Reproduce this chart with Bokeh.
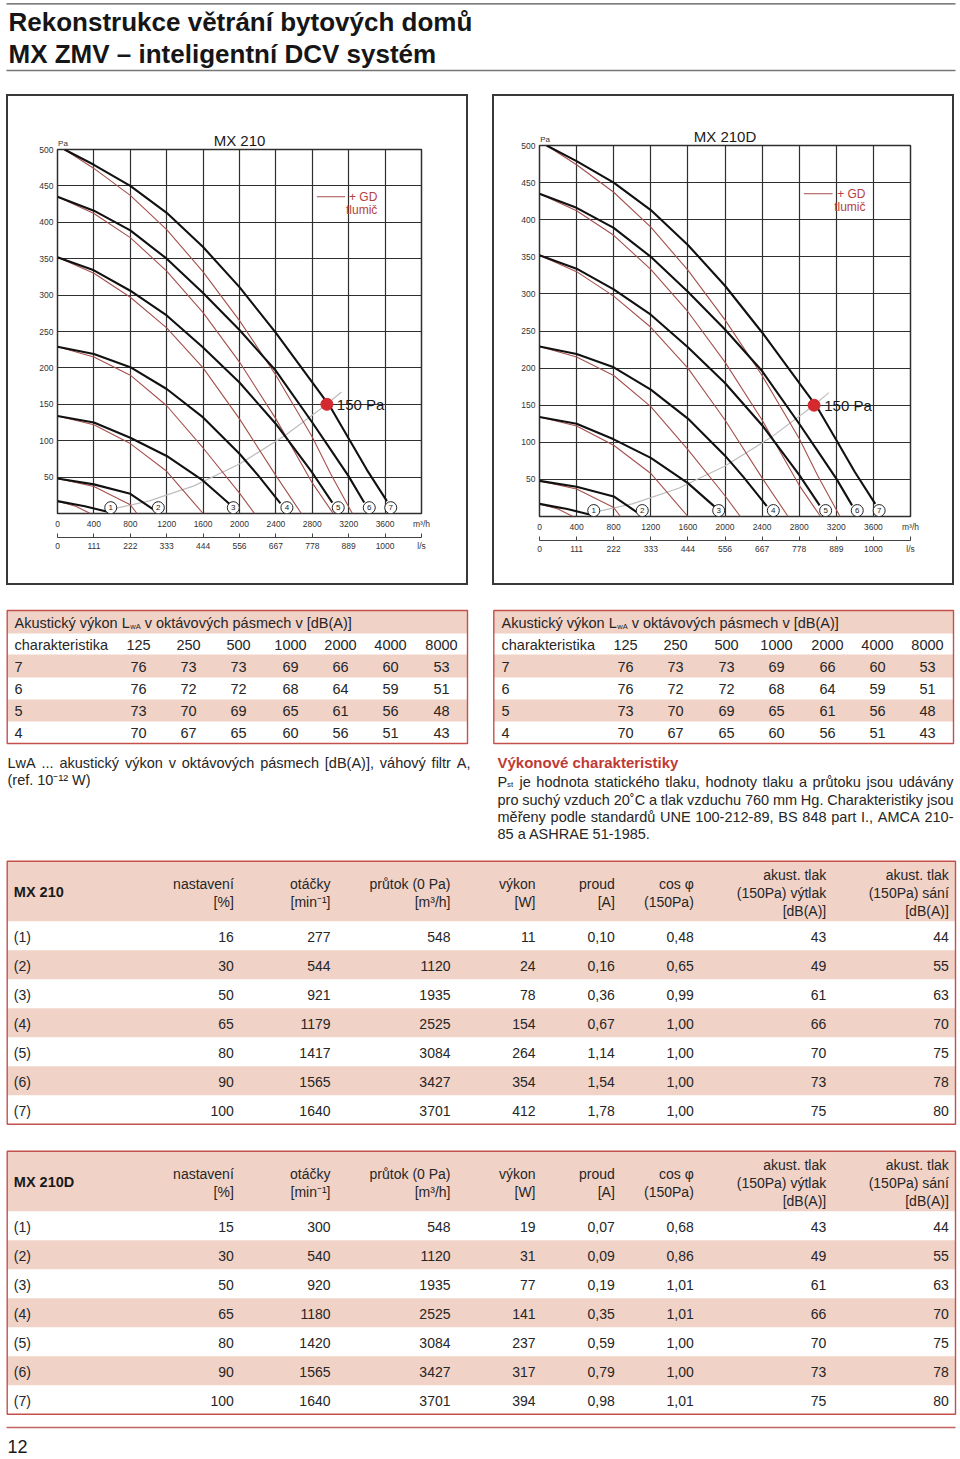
import unicodedata
from bokeh.plotting import figure
from bokeh.models import Range1d, LinearAxis, FixedTicker, Grid, Spacer
from bokeh.layouts import column, row
from bokeh.core.properties import value
from bokeh.embed import file_html
from bokeh.resources import INLINE

FONT = "Liberation Sans"
PINK = "#f1d2c6"
RED_BORDER = "#c4504c"
TXT = "#262626"
GRID = "#2f2f2f"
CURVE_RED = "#a4504c"

# ---------------- chart data ----------------
flow_ticks = [0, 400, 800, 1200, 1600, 2000, 2400, 2800, 3200, 3600, 4000]
flow_labels = ["0", "400", "800", "1200", "1600", "2000", "2400", "2800", "3200", "3600", "m³/h"]
ls_labels = ["0", "111", "222", "333", "444", "556", "667", "778", "889", "1000", "l/s"]
pa_ticks = [50, 100, 150, 200, 250, 300, 350, 400, 450, 500]
pa_unit_x = [60]
pa_unit_label = ["Pa"]

# fan curves (black) - flow m3/h, pressure Pa
c1_x = [0, 300, 560]
c1_y = [17, 10, 2]
c2_x = [0, 400, 800, 1060]
c2_y = [48, 40, 27, 5]
c3_x = [0, 400, 800, 1200, 1600, 1900]
c3_y = [134, 125, 104, 79, 45, 12]
c4_x = [0, 400, 800, 1200, 1600, 2000, 2200, 2450]
c4_y = [229, 219, 201, 171, 132, 82, 53, 14]
c5_x = [0, 400, 800, 1200, 1600, 2000, 2400, 2800, 3020]
c5_y = [352, 334, 306, 272, 228, 180, 123, 56, 15]
c6_x = [0, 400, 800, 1200, 1600, 2000, 2400, 2800, 3000, 3200, 3370]
c6_y = [435, 416, 389, 350, 303, 252, 196, 125, 88, 51, 15]
c7_x = [77, 400, 800, 1200, 1600, 2000, 2400, 2800, 3000, 3200, 3400, 3620]
c7_y = [500, 479, 450, 413, 366, 311, 248, 180, 146, 103, 60, 17]

# curves with GD silencer (red)
r1_x = [0, 200, 360]
r1_y = [17, 10, 0]
r2_x = [0, 400, 800, 873]
r2_y = [48, 37, 12, 0]
r3_x = [0, 400, 800, 1200, 1600]
r3_y = [134, 122, 96, 58, 0]
r4_x = [0, 400, 800, 1200, 1600, 2000, 2165]
r4_y = [229, 215, 190, 148, 90, 28, 0]
r5_x = [0, 400, 800, 1200, 1600, 2000, 2400, 2680]
r5_y = [352, 330, 297, 255, 200, 130, 52, 0]
r6_x = [0, 400, 800, 1200, 1600, 2000, 2400, 2800, 3030]
r6_y = [435, 412, 379, 333, 276, 208, 130, 42, 0]
r7_x = [77, 400, 800, 1200, 1600, 2000, 2400, 2800, 3000, 3240]
r7_y = [500, 474, 437, 390, 332, 265, 190, 105, 55, 0]

# system curve (grey) and working point
sys_x = [560, 1000, 1500, 2000, 2500, 2960, 3120]
sys_y = [5, 17, 38, 68, 107, 150, 167]
wp_x = [2960]
wp_y = [150]

curve_ids = ["1", "2", "3", "4", "5", "6", "7"]
id_x = [585, 1108, 1932, 2521, 3085, 3426, 3662]
id_y = [8, 8, 8, 8, 8, 8, 8]

# ---------------- acoustic table ----------------
bands = ["125", "250", "500", "1000", "2000", "4000", "8000"]
lwa_rows = ["7", "6", "5", "4"]
lwa_7 = [76, 73, 73, 69, 66, 60, 53]
lwa_6 = [76, 72, 72, 68, 64, 59, 51]
lwa_5 = [73, 70, 69, 65, 61, 56, 48]
lwa_4 = [70, 67, 65, 60, 56, 51, 43]

# ---------------- main tables ----------------
row_names = ["(1)", "(2)", "(3)", "(4)", "(5)", "(6)", "(7)"]
t210_nastaveni = [16, 30, 50, 65, 80, 90, 100]
t210_otacky = [277, 544, 921, 1179, 1417, 1565, 1640]
t210_prutok = [548, 1120, 1935, 2525, 3084, 3427, 3701]
t210_vykon = [11, 24, 78, 154, 264, 354, 412]
t210_proud = [0.10, 0.16, 0.36, 0.67, 1.14, 1.54, 1.78]
t210_cos = [0.48, 0.65, 0.99, 1.00, 1.00, 1.00, 1.00]
t210_vytlak = [43, 49, 61, 66, 70, 73, 75]
t210_sani = [44, 55, 63, 70, 75, 78, 80]

t210d_nastaveni = [15, 30, 50, 65, 80, 90, 100]
t210d_otacky = [300, 540, 920, 1180, 1420, 1565, 1640]
t210d_prutok = [548, 1120, 1935, 2525, 3084, 3427, 3701]
t210d_vykon = [19, 31, 77, 141, 237, 317, 394]
t210d_proud = [0.07, 0.09, 0.19, 0.35, 0.59, 0.79, 0.98]
t210d_cos = [0.68, 0.86, 1.01, 1.01, 1.00, 1.00, 1.01]
t210d_vytlak = [43, 49, 61, 66, 70, 73, 75]
t210d_sani = [44, 55, 63, 70, 75, 78, 80]

header_cols = [
    ["nastavení", "[%]"],
    ["otáčky", "[min⁻¹]"],
    ["průtok (0 Pa)", "[m³/h]"],
    ["výkon", "[W]"],
    ["proud", "[A]"],
    ["cos φ", "(150Pa)"],
    ["akust. tlak", "(150Pa) výtlak", "[dB(A)]"],
    ["akust. tlak", "(150Pa) sání", "[dB(A)]"],
]

note_lines = ["LwA ... akustický výkon v oktávových pásmech [dB(A)], váhový filtr A,",
              "(ref. 10⁻¹² W)"]
para_first = "je hodnota statického tlaku, hodnoty tlaku a průtoku jsou udávány"
para_lines = ["pro suchý vzduch 20˚C a tlak vzduchu 760 mm Hg. Charakteristiky jsou",
              "měřeny podle standardů UNE 100-212-89, BS 848 part I., AMCA 210-",
              "85 a ASHRAE 51-1985."]

# Helvetica/Arial advance widths (1/1000 em) used to justify text lines
_W = {" ": 278, "!": 278, "%": 889, "(": 333, ")": 333, ",": 278, "-": 333, ".": 278,
      "/": 278, ":": 278, "[": 278, "]": 278, "˚": 333, "–": 556,
      "A": 667, "B": 667, "C": 722, "D": 722, "E": 667, "F": 611, "G": 778, "H": 722,
      "I": 278, "J": 500, "K": 667, "L": 556, "M": 833, "N": 722, "O": 778, "P": 667,
      "Q": 778, "R": 722, "S": 667, "T": 611, "U": 722, "V": 667, "W": 944, "X": 667,
      "Y": 667, "Z": 611,
      "a": 556, "b": 556, "c": 500, "d": 556, "e": 556, "f": 278, "g": 556, "h": 556,
      "i": 222, "j": 222, "k": 500, "l": 222, "m": 833, "n": 556, "o": 556, "p": 556,
      "q": 556, "r": 333, "s": 500, "t": 278, "u": 556, "v": 500, "w": 722, "x": 500,
      "y": 500, "z": 500}


def text_width(s, size):
    tot = 0
    for ch in s:
        base = unicodedata.normalize("NFD", ch)[0]
        tot += _W.get(ch, _W.get(base, 556))
    return tot * size / 1000.0


def txt(p, xs, ys, texts, size="14px", align="left", baseline="middle",
        color=TXT, style="normal"):
    p.text(x=xs, y=ys, text=texts, text_font=value(FONT),
           text_font_size=value(size), text_align=align,
           text_baseline=baseline, text_color=color, text_font_style=style)


def justified(p, x0, x1, y, line, size):
    words = line.split(" ")
    ws = [text_width(w, size) for w in words]
    gap = (x1 - x0 - sum(ws)) / (len(words) - 1)
    xs, x = [], x0
    for w in ws:
        xs.append(x)
        x += w + gap
    txt(p, xs, [y] * len(words), words, size="%gpx" % size)


def comma(v):
    return ("%.2f" % v).replace(".", ",")


# ---------------- charts ----------------
def make_chart(title, ml, mr, mt, mb):
    p = figure(width=458, height=487, x_range=Range1d(0, 4000), y_range=Range1d(0, 500),
               x_axis_type=None, y_axis_type=None, toolbar_location=None,
               output_backend="svg", min_border_left=ml, min_border_right=mr,
               min_border_top=mt, min_border_bottom=mb, title=title)
    p.styles = {"outline": "2px solid #383838"}
    p.outline_line_color = GRID
    p.outline_line_width = 1.5
    p.background_fill_color = "white"
    p.border_fill_color = "white"
    p.title.align = "center"
    p.title.text_font = FONT
    p.title.text_font_size = "15px"
    p.title.text_font_style = "normal"
    p.title.text_color = "#1a1a1a"
    p.title.standoff = -27

    yax = LinearAxis(ticker=FixedTicker(ticks=pa_ticks))
    yax.axis_line_color = None
    yax.major_tick_out = 0
    yax.major_tick_in = 0
    yax.minor_tick_out = 0
    yax.major_label_standoff = 4
    yax.major_label_text_font = FONT
    yax.major_label_text_font_size = "8.5px"
    yax.major_label_text_color = "#333333"
    p.add_layout(yax, "left")

    # unit label "Pa" above the top-left corner of the plot
    pax = LinearAxis(ticker=FixedTicker(ticks=pa_unit_x),
                     major_label_overrides=dict(zip(pa_unit_x, pa_unit_label)))
    pax.axis_line_color = None
    pax.major_tick_out = 0
    pax.major_tick_in = 0
    pax.minor_tick_out = 0
    pax.major_label_standoff = 2
    pax.major_label_text_font = FONT
    pax.major_label_text_font_size = "8px"
    pax.major_label_text_color = "#333333"
    p.add_layout(pax, "above")

    xax = LinearAxis(ticker=FixedTicker(ticks=flow_ticks),
                     major_label_overrides=dict(zip(flow_ticks, flow_labels)))
    xax.axis_line_color = None
    xax.major_tick_out = 0
    xax.major_tick_in = 0
    xax.minor_tick_out = 0
    xax.major_label_standoff = 5
    xax.major_label_text_font = FONT
    xax.major_label_text_font_size = "8.5px"
    xax.major_label_text_color = "#333333"
    xax.axis_label = " "
    xax.axis_label_text_font_size = "3px"
    xax.axis_label_standoff = 0
    p.add_layout(xax, "below")

    xax2 = LinearAxis(ticker=FixedTicker(ticks=flow_ticks),
                      major_label_overrides=dict(zip(flow_ticks, ls_labels)))
    xax2.axis_line_color = "#444444"
    xax2.axis_line_width = 1
    xax2.major_tick_out = 0
    xax2.major_tick_in = 4
    xax2.major_tick_line_color = "#444444"
    xax2.minor_tick_out = 0
    xax2.major_label_standoff = 3
    xax2.major_label_text_font = FONT
    xax2.major_label_text_font_size = "8.5px"
    xax2.major_label_text_color = "#333333"
    p.add_layout(xax2, "below")

    p.add_layout(Grid(dimension=0, ticker=FixedTicker(ticks=flow_ticks),
                      grid_line_color=GRID, grid_line_width=1.2))
    p.add_layout(Grid(dimension=1, ticker=FixedTicker(ticks=pa_ticks),
                      grid_line_color=GRID, grid_line_width=1.2))

    reds = [(r1_x, r1_y), (r2_x, r2_y), (r3_x, r3_y), (r4_x, r4_y),
            (r5_x, r5_y), (r6_x, r6_y), (r7_x, r7_y)]
    blacks = [(c1_x, c1_y), (c2_x, c2_y), (c3_x, c3_y), (c4_x, c4_y),
              (c5_x, c5_y), (c6_x, c6_y), (c7_x, c7_y)]
    p.line(sys_x, sys_y, line_color="#bdbdbd", line_width=1.2)
    for xs, ys in reds:
        p.line(xs, ys, line_color=CURVE_RED, line_width=1.1)
    for xs, ys in blacks:
        p.line(xs, ys, line_color="#111111", line_width=2.1, line_join="round")

    p.scatter(id_x, id_y, marker="circle", size=12, fill_color="white",
              line_color="#222222", line_width=1)
    txt(p, id_x, id_y, curve_ids, size="8px", align="center", color="#222222")

    p.scatter(wp_x, wp_y, marker="circle", size=12, fill_color="#d42a2f",
              line_color="#d42a2f")
    txt(p, [wp_x[0] + 110], [wp_y[0]], ["150 Pa"], size="15px", color="#1a1a1a")

    # legend
    p.segment(x0=[2850], y0=[435], x1=[3160], y1=[435], line_color=CURVE_RED, line_width=1.1)
    txt(p, [3515], [435], ["+ GD"], size="12px", align="right", color="#b4423e")
    txt(p, [3515], [417], ["tlumič"], size="12px", align="right", color="#b4423e")
    return p


# chart figures sit 2px inside the drawn box (outline is painted outside them)
ch1 = make_chart("MX 210", 49, 45, 53, 70)
ch2 = make_chart("MX 210D", 45, 42, 49, 67)

# ---------------- header ----------------
hdr = figure(width=960, height=94, x_range=Range1d(0, 960), y_range=Range1d(94, 0),
             x_axis_type=None, y_axis_type=None, toolbar_location=None,
             output_backend="svg", min_border=0, outline_line_color=None)
hdr.segment(x0=[6], y0=[3.3], x1=[955], y1=[3.3], line_color="#555555", line_width=1.2)
hdr.segment(x0=[6], y0=[70], x1=[955], y1=[70], line_color="#777777", line_width=1.6)
txt(hdr, [8, 8], [21.7, 53.3],
    ["Rekonstrukce větrání bytových domů", "MX ZMV – inteligentní DCV systém"],
    size="26px", style="bold", color="#161616")

# ---------------- bottom part ----------------
bot = figure(width=960, height=872, x_range=Range1d(0, 960), y_range=Range1d(1457, 585),
             x_axis_type=None, y_axis_type=None, toolbar_location=None,
             output_backend="svg", min_border=0, outline_line_color=None)


def acoustic_table(p, x0, x1, tx, centers):
    b = [610, 633, 654, 677, 699, 721, 743]
    pink_idx = [0, 2, 4]
    p.quad(left=[x0] * 3, right=[x1] * 3, top=[b[i] for i in pink_idx],
           bottom=[b[i + 1] for i in pink_idx], fill_color=PINK, line_color=None)
    p.quad(left=[x0], right=[x1], top=[b[0]], bottom=[b[-1]], fill_color=None,
           line_color=RED_BORDER, line_width=1.4)
    mids = [(b[i] + b[i + 1]) / 2 + 0.5 for i in range(6)]
    s = 14.5
    w1 = text_width("Akustický výkon L", s)
    txt(p, [tx], [mids[0]], ["Akustický výkon L"], size="14.5px")
    txt(p, [tx + w1 + 0.5], [mids[0] + 4], ["wA"], size="7.5px")
    txt(p, [tx + w1 + 0.5 + text_width("wA", 7.5) + text_width(" ", s)], [mids[0]],
        ["v oktávových pásmech v [dB(A)]"], size="14.5px")
    txt(p, [tx], [mids[1]], ["charakteristika"], size="14.5px")
    txt(p, centers, [mids[1]] * 7, bands, size="14.5px", align="center")
    for k, (name, vals) in enumerate(zip(lwa_rows, [lwa_7, lwa_6, lwa_5, lwa_4])):
        y = mids[2 + k]
        txt(p, [tx], [y], [name], size="14.5px")
        txt(p, centers, [y] * 7, [str(v) for v in vals], size="14.5px", align="center")


acoustic_table(bot, 6.7, 467, 14, [138, 188, 238, 290, 340, 390, 441])
acoustic_table(bot, 493.3, 953, 501, [625, 675, 726, 776, 827, 877, 927])

justified(bot, 7, 470, 762, note_lines[0], 14.5)
txt(bot, [7], [779], [note_lines[1]], size="14.5px")

txt(bot, [497], [762], ["Výkonové charakteristiky"], size="15px", style="bold", color="#bf3a35")
txt(bot, [497], [781], ["P"], size="14.5px")
txt(bot, [506.5], [783.5], ["st"], size="8px")
justified(bot, 519, 953, 781, para_first, 14.5)
justified(bot, 497, 953, 799, para_lines[0], 14.5)
justified(bot, 497, 953, 816, para_lines[1], 14.5)
txt(bot, [497], [833], [para_lines[2]], size="14.5px")


def main_table(p, top, name, cols):
    x0, x1 = 6.7, 955
    hh, rh = 60, 29
    hb = top + hh
    bottom = hb + 7 * rh
    pinks_t = [top] + [hb + i * rh for i in (1, 3, 5)]
    pinks_b = [hb] + [hb + (i + 1) * rh for i in (1, 3, 5)]
    p.quad(left=[x0] * 4, right=[x1] * 4, top=pinks_t, bottom=pinks_b,
           fill_color=PINK, line_color=None)
    p.quad(left=[x0], right=[x1], top=[top], bottom=[bottom], fill_color=None,
           line_color=RED_BORDER, line_width=1.4)
    rights = [233.3, 330, 450, 535, 614.3, 693.3, 825.7, 948.3]
    txt(p, [13.3], [top + 31], [name], size="14.5px", style="bold", color="#1a1a1a")
    for r, lines in zip(rights, header_cols):
        if len(lines) == 2:
            ys = [top + 22.6, top + 41]
        else:
            ys = [top + 13.3, top + 31.3, top + 49.3]
        txt(p, [r] * len(lines), ys, lines, size="14px", align="right")
    ys = [hb + 15.5 + i * rh for i in range(7)]
    txt(p, [13.3] * 7, ys, row_names, size="14px")
    for r, vals in zip(rights, cols):
        txt(p, [r] * 7, ys, vals, size="14px", align="right")


cols210 = [[str(v) for v in t210_nastaveni], [str(v) for v in t210_otacky],
           [str(v) for v in t210_prutok], [str(v) for v in t210_vykon],
           [comma(v) for v in t210_proud], [comma(v) for v in t210_cos],
           [str(v) for v in t210_vytlak], [str(v) for v in t210_sani]]
cols210d = [[str(v) for v in t210d_nastaveni], [str(v) for v in t210d_otacky],
            [str(v) for v in t210d_prutok], [str(v) for v in t210d_vykon],
            [comma(v) for v in t210d_proud], [comma(v) for v in t210d_cos],
            [str(v) for v in t210d_vytlak], [str(v) for v in t210d_sani]]

main_table(bot, 860.7, "MX 210", cols210)
main_table(bot, 1150.7, "MX 210D", cols210d)

bot.segment(x0=[6], y0=[1427], x1=[955], y1=[1427], line_color="#c26360", line_width=1.3)
txt(bot, [7], [1446], ["12"], size="18px", color="#1a1a1a")

chart_row = row(
    Spacer(width=8, height=491),
    column(Spacer(width=458, height=2), ch1, Spacer(width=458, height=2)),
    Spacer(width=28, height=491),
    column(Spacer(width=458, height=2), ch2, Spacer(width=458, height=2)),
    Spacer(width=8, height=491),
)
layout = column(hdr, chart_row, bot)

open("out.html", "w").write(file_html(layout, INLINE))
